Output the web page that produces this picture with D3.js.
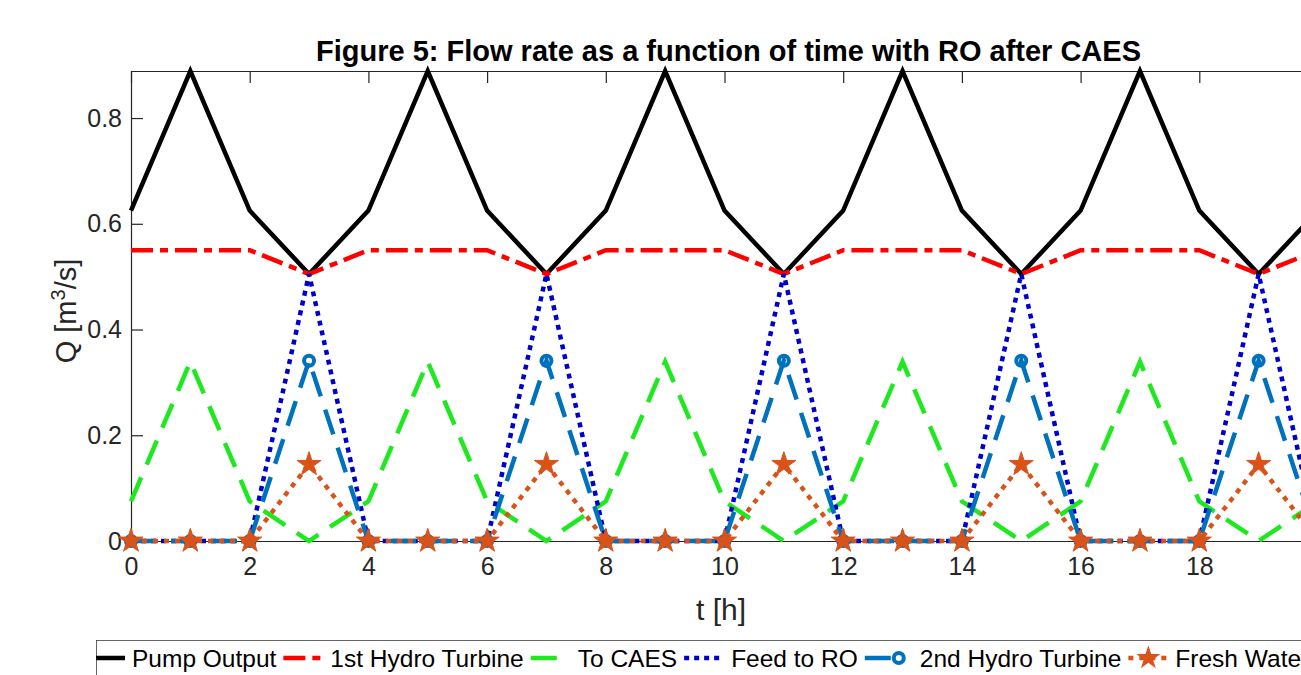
<!DOCTYPE html>
<html>
<head>
<meta charset="utf-8">
<script src="https://cdn.jsdelivr.net/npm/d3@7"></script>
<style>
  html, body { margin: 0; padding: 0; background: #fff; }
  svg { display: block; font-family: "Liberation Sans", Arial, Helvetica, sans-serif; }
  .tick text { fill: #262626; }
</style>
</head>
<body>
<svg id="chart" width="1301" height="675"></svg>
<script>
// hours 0..20
var hours = [0, 1, 2, 3, 4, 5, 6, 7, 8, 9, 10, 11, 12, 13, 14, 15, 16, 17, 18, 19, 20];

var pumpOutput = [0.625, 0.889, 0.625, 0.505, 0.625, 0.889, 0.625, 0.505, 0.625, 0.889, 0.625,
                  0.505, 0.625, 0.889, 0.625, 0.505, 0.625, 0.889, 0.625, 0.505, 0.625];
var hydro1 = [0.55, 0.55, 0.55, 0.505, 0.55, 0.55, 0.55, 0.505, 0.55, 0.55, 0.55,
              0.505, 0.55, 0.55, 0.55, 0.505, 0.55, 0.55, 0.55, 0.505, 0.55];
var toCaes = [0.075, 0.339, 0.075, 0, 0.075, 0.339, 0.075, 0, 0.075, 0.339, 0.075,
              0, 0.075, 0.339, 0.075, 0, 0.075, 0.339, 0.075, 0, 0.075];
var feedRo = [0, 0, 0, 0.505, 0, 0, 0, 0.505, 0, 0, 0,
              0.505, 0, 0, 0, 0.505, 0, 0, 0, 0.505, 0];
var hydro2 = [0, 0, 0, 0.341, 0, 0, 0, 0.341, 0, 0, 0,
              0.341, 0, 0, 0, 0.341, 0, 0, 0, 0.341, 0];
var freshWater = [0, 0, 0, 0.145, 0, 0, 0, 0.145, 0, 0, 0,
                  0.145, 0, 0, 0, 0.145, 0, 0, 0, 0.145, 0];

var xTicks = [0, 2, 4, 6, 8, 10, 12, 14, 16, 18, 20];
var yTicks = [0, 0.2, 0.4, 0.6, 0.8];
var yTickLabels = ['0', '0.2', '0.4', '0.6', '0.8'];

var seriesNames = ['Pump Output', '1st Hydro Turbine', 'To CAES', 'Feed to RO', '2nd Hydro Turbine', 'Fresh Water'];

(function () {
  var series = [
    { name: seriesNames[0], values: pumpOutput, color: '#000000', dash: null, marker: null },
    { name: seriesNames[1], values: hydro1, color: '#ff0000', dash: '22,7,8,7', marker: null },
    { name: seriesNames[2], values: toCaes, color: '#1ee81e', dash: '26,14', marker: null },
    { name: seriesNames[3], values: feedRo, color: '#0000cc', dash: '5,5', marker: null },
    { name: seriesNames[4], values: hydro2, color: '#0072bd', dash: '26,14', marker: 'circle' },
    { name: seriesNames[5], values: freshWater, color: '#d95319', dash: '5,6', marker: 'star' }
  ];

  var svg = d3.select('#chart');
  var pLeft = 131, pRight = 1318, pTop = 71, pBottom = 541;

  var x = d3.scaleLinear().domain([0, 20]).range([pLeft, pRight]);
  var y = d3.scaleLinear().domain([0, 0.889]).range([pBottom, pTop]);

  // axes (ticks inside, MATLAB box style)
  var axisColor = '#262626';
  var gx = svg.append('g')
    .attr('transform', 'translate(0,' + pBottom + ')')
    .call(d3.axisBottom(x).tickValues(xTicks).tickSizeInner(-12).tickSizeOuter(0).tickPadding(16)
      .tickFormat(d3.format('d')));
  gx.selectAll('text').style('font-size', '25px');

  svg.append('g')
    .attr('transform', 'translate(0,' + pTop + ')')
    .call(d3.axisTop(x).tickValues(xTicks).tickSizeInner(-12).tickSizeOuter(0).tickFormat(''));

  var gy = svg.append('g')
    .attr('transform', 'translate(' + pLeft + ',0)')
    .call(d3.axisLeft(y).tickValues(yTicks).tickSizeInner(-12).tickSizeOuter(0).tickPadding(9)
      .tickFormat(function (d, i) { return yTickLabels[i]; }));
  gy.selectAll('text').style('font-size', '25px');

  svg.selectAll('.domain').attr('stroke', axisColor).attr('stroke-width', 1.2);
  svg.selectAll('.tick line').attr('stroke', axisColor).attr('stroke-width', 1.2);

  // title and labels
  svg.append('text')
    .attr('x', (pLeft + pRight) / 2 + 4)
    .attr('y', 61)
    .attr('text-anchor', 'middle')
    .style('font-size', '29px')
    .style('font-weight', 'bold')
    .attr('fill', '#000')
    .text('Figure 5: Flow rate as a function of time with RO after CAES');

  svg.append('text')
    .attr('x', 721)
    .attr('y', 620)
    .attr('text-anchor', 'middle')
    .style('font-size', '30px')
    .attr('fill', axisColor)
    .text('t [h]');

  var yl = svg.append('text')
    .attr('transform', 'translate(76,311) rotate(-90)')
    .attr('text-anchor', 'middle')
    .style('font-size', '29px')
    .attr('fill', axisColor);
  yl.append('tspan').text('Q [m');
  yl.append('tspan').attr('dy', -11).style('font-size', '20px').text('3');
  yl.append('tspan').attr('dy', 11).text('/s]');

  // lines
  var line = d3.line()
    .x(function (d, i) { return x(hours[i]); })
    .y(function (d) { return y(d); });

  var starPath = d3.symbol().type(d3.symbolStar).size(180)();

  series.forEach(function (s) {
    svg.append('path')
      .datum(s.values)
      .attr('d', line)
      .attr('fill', 'none')
      .attr('stroke', s.color)
      .attr('stroke-width', 4.5)
      .attr('stroke-dasharray', s.dash)
      .attr('stroke-linejoin', 'miter');

    if (s.marker === 'circle') {
      svg.append('g').selectAll('circle')
        .data(s.values)
        .enter().append('circle')
        .attr('cx', function (d, i) { return x(hours[i]); })
        .attr('cy', function (d) { return y(d); })
        .attr('r', 5)
        .attr('fill', 'none')
        .attr('stroke', s.color)
        .attr('stroke-width', 4);
    }
    if (s.marker === 'star') {
      svg.append('g').selectAll('path')
        .data(s.values)
        .enter().append('path')
        .attr('d', starPath)
        .attr('transform', function (d, i) { return 'translate(' + x(hours[i]) + ',' + y(d) + ')'; })
        .attr('fill', s.color)
        .attr('stroke', s.color)
        .attr('stroke-width', 1);
    }
  });

  // legend (horizontal, box runs past the bottom edge)
  var legTop = 640, legLeft = 96, sampleLen = 40, legY = 658;
  svg.append('defs').append('clipPath').attr('id', 'legclip')
    .append('rect').attr('x', legLeft).attr('y', legTop).attr('width', 1400).attr('height', 100);

  var leg = svg.append('g').attr('clip-path', 'url(#legclip)');
  leg.append('rect')
    .attr('x', legLeft).attr('y', legTop)
    .attr('width', 1400).attr('height', 80)
    .attr('fill', '#fff')
    .attr('stroke', '#333').attr('stroke-width', 1.5);

  var cx = 85;
  series.forEach(function (s) {
    var g = leg.append('g');
    g.append('line')
      .attr('x1', cx).attr('x2', cx + sampleLen)
      .attr('y1', legY).attr('y2', legY)
      .attr('stroke', s.color)
      .attr('stroke-width', 4.5)
      .attr('stroke-dasharray', s.dash);
    var mx = cx + sampleLen / 2;
    if (s.marker === 'circle') {
      g.append('circle').attr('cx', cx + sampleLen - 6).attr('cy', legY).attr('r', 5)
        .attr('fill', 'none').attr('stroke', s.color).attr('stroke-width', 4);
    }
    if (s.marker === 'star') {
      g.append('path').attr('d', starPath)
        .attr('transform', 'translate(' + mx + ',' + legY + ')')
        .attr('fill', s.color);
    }
    var gap = s.marker === 'circle' ? 15 : 7;
    var t = g.append('text')
      .attr('x', cx + sampleLen + gap)
      .attr('y', legY + 9)
      .style('font-size', '24.5px')
      .attr('fill', '#000')
      .text(s.name);
    cx = cx + sampleLen + gap + t.node().getComputedTextLength() + 7;
  });
})();
</script>
</body>
</html>
